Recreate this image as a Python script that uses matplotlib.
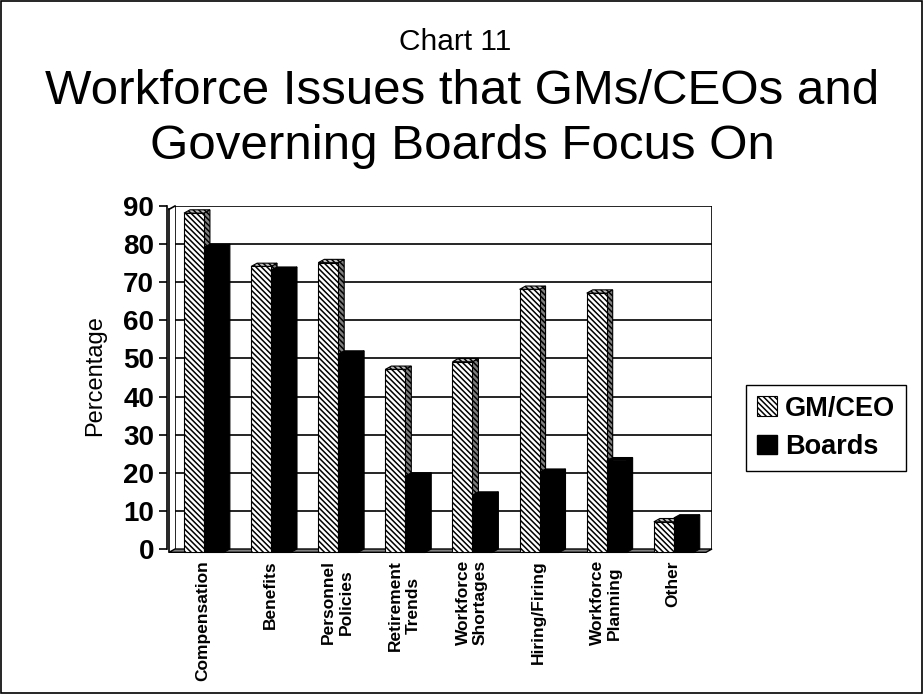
import matplotlib.pyplot as plt
import matplotlib.patches as mpatches
from matplotlib.patches import Polygon, Rectangle
import numpy as np

plt.rcParams['font.family'] = ['Liberation Sans', 'DejaVu Sans']
plt.rcParams['hatch.linewidth'] = 1.1

categorias = ['Compensation', 'Benefits', 'Personnel\nPolicies', 'Retirement\nTrends',
              'Workforce\nShortages', 'Hiring/Firing', 'Workforce\nPlanning', 'Other']
gm_ceo = [89, 75, 76, 48, 50, 69, 68, 8]
boards = [80, 74, 52, 20, 15, 21, 24, 9]
y_ticks = [0, 10, 20, 30, 40, 50, 60, 70, 80, 90]

fig = plt.figure(figsize=(9.24, 6.94), dpi=100)
ax = fig.add_axes([175/924, 1 - 549/694, 537/924, 343/694])

# profundidad 3D (en unidades de datos)
dx = 6 / 67.1
dy = 3.3 / 3.81
ancho = 0.297
rayado = '\\' * 6

ax.set_xlim(-0.5, 7.5)
ax.set_ylim(0, 90)

# rejilla de la pared trasera
for v in y_ticks[1:]:
    ax.axhline(v, color='black', lw=1.2, zorder=1)
ax.axvline(-0.5, color='black', lw=1.2, zorder=1)
ax.axvline(7.5, color='black', lw=1.2, zorder=1)

# piso gris
piso = Polygon([(-0.5 - dx, -dy), (7.5 - dx, -dy), (7.5, 0), (-0.5, 0)],
               closed=True, facecolor='#808080', edgecolor='black', lw=1,
               clip_on=False, zorder=2)
ax.add_patch(piso)

# pared izquierda (borde frontal)
ax.plot([-0.5 - dx, -0.5 - dx], [-dy, 90 - dy], color='black', lw=1.2, clip_on=False, zorder=2)
ax.plot([-0.5 - dx, -0.5], [90 - dy, 90], color='black', lw=1.2, clip_on=False, zorder=2)


def barra3d(x0, v, cara, lado, tapa, hatch):
    y0 = -dy
    y1 = v - dy
    # cara lateral
    ax.add_patch(Polygon([(x0 + ancho, y0), (x0 + ancho + dx, y0 + dy),
                          (x0 + ancho + dx, y1 + dy), (x0 + ancho, y1)],
                         facecolor=lado, edgecolor='black', lw=0.8, hatch=hatch,
                         clip_on=False, zorder=3))
    # tapa
    ax.add_patch(Polygon([(x0, y1), (x0 + ancho, y1), (x0 + ancho + dx, y1 + dy),
                          (x0 + dx, y1 + dy)],
                         facecolor=tapa, edgecolor='black', lw=0.8, hatch=hatch,
                         clip_on=False, zorder=3))
    # cara frontal
    ax.add_patch(Rectangle((x0, y0), ancho, v, facecolor=cara, edgecolor='black',
                           lw=0.8, hatch=hatch, clip_on=False, zorder=3))


x = np.arange(len(categorias))
for i in x:
    barra3d(i - 0.366, gm_ceo[i], 'white', '#808080', '#c0c0c0', rayado)
    barra3d(i - 0.069, boards[i], 'black', 'black', 'black', None)

# ejes
for s in ['top', 'right', 'bottom']:
    ax.spines[s].set_visible(False)
ax.spines['left'].set_position(('outward', 6))
ax.spines['left'].set_bounds(0, 90)
ax.spines['left'].set_linewidth(1.2)
ax.set_yticks(y_ticks)
ax.set_yticklabels([str(t) for t in y_ticks], fontsize=20, fontweight='bold')
ax.tick_params(axis='y', length=6, width=1.2, pad=3)

ax.set_xticks(x - 0.08)
ax.set_xticklabels(categorias, rotation=90, fontsize=12.5, fontweight='bold',
                   va='top', ha='center', multialignment='center')
ax.tick_params(axis='x', length=0, pad=8)

fig.text(95/924, 1 - 376/694, 'Percentage', rotation=90, fontsize=17,
         ha='center', va='center')

# titulos
fig.text(0.493, 1 - 50/694, 'Chart 11', fontsize=21.5, ha='center', va='baseline')
fig.text(0.500, 1 - 104/694, 'Workforce Issues that GMs/CEOs and', fontsize=35.5,
         ha='center', va='baseline')
fig.text(0.500, 1 - 159/694, 'Governing Boards Focus On', fontsize=35.5,
         ha='center', va='baseline')

# leyenda
h1 = mpatches.Patch(facecolor='white', edgecolor='black', hatch=rayado, lw=0.8, label='GM/CEO')
h2 = mpatches.Patch(facecolor='black', edgecolor='black', label='Boards')
leg = fig.legend(handles=[h1, h2], loc='upper left',
                 bbox_to_anchor=(746/924, 1 - 385/694), borderaxespad=0,
                 prop={'size': 19.5, 'weight': 'bold'}, fancybox=False,
                 edgecolor='black', framealpha=1, handlelength=0.75,
                 handleheight=0.75, handletextpad=0.3, labelspacing=0.45,
                 borderpad=0.4)
leg.get_frame().set_linewidth(1)

# borde exterior
fig.patches.append(Rectangle((0.001, 0.001), 0.997, 0.997, transform=fig.transFigure,
                             fill=False, edgecolor='black', lw=1.2))

plt.savefig('out.png', dpi=100)
plt.close()
